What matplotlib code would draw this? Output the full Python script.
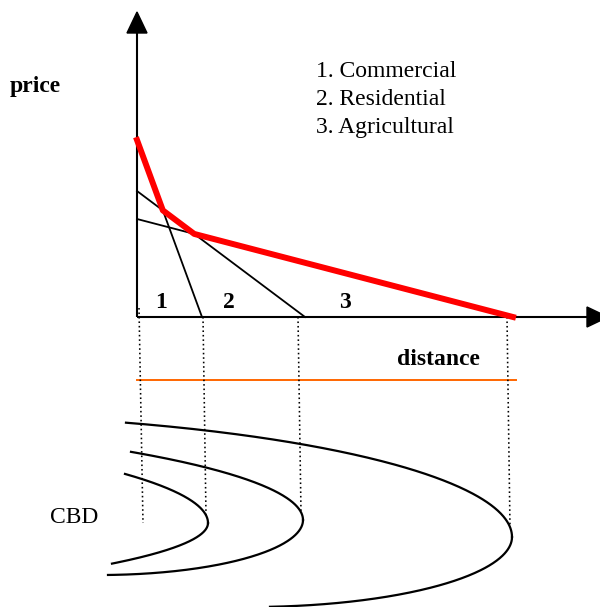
import numpy as np
import matplotlib.pyplot as plt
from matplotlib.patches import Polygon, Rectangle

plt.rcParams['font.family'] = ['Liberation Serif', 'DejaVu Serif']

# bid-rent lines: price at the CBD and the distance where it falls to zero
uses = ['1. Commercial', '2. Residential', '3. Agricultural']
zone_labels = ['1', '2', '3']
intercepts = [177, 126, 98]
extents = [65, 168, 376]

# land-use rings on the map below (edge distance, level, arcs as (a, b, reach))
ring_edge = [71, 166, 375]
ring_level = [-206, -203, -220]
ring_top = [(1000, 123, 83), (800, 110, 172), (612, 123, 386)]
ring_bottom = [(1000, 95, 96), (203, 55, 195), (262, 70, 242)]

fig = plt.figure(figsize=(6.0, 6.07), dpi=100)
ax = fig.add_axes([0, 0, 1, 1])
ax.set_xlim(-137, 463)
ax.set_ylim(-290, 317)
ax.axis('off')

# axes with arrow heads
ax.plot([0, 0], [0, 288], color='black', lw=1.5, solid_capstyle='butt')
ax.plot([0, 452], [0, 0], color='black', lw=1.5, solid_capstyle='butt')
ax.add_patch(Polygon([(-10, 284), (10, 284), (0, 305)], closed=True, color='black'))
ax.add_patch(Polygon([(450, -10), (450, 10), (471, 0)], closed=True, color='black'))

# individual bid-rent lines
for p0, d0 in zip(intercepts, extents):
    ax.plot([0, d0], [p0, 0], color='black', lw=1.3)

# upper envelope: where each line overtakes the next one
env_d = [0]
env_p = [intercepts[0]]
for i in range(len(intercepts) - 1):
    s1 = intercepts[i] / extents[i]
    s2 = intercepts[i + 1] / extents[i + 1]
    d = (intercepts[i] - intercepts[i + 1]) / (s1 - s2)
    env_d.append(d)
    env_p.append(intercepts[i] - s1 * d)
env_d.append(extents[-1])
env_p.append(0)
ax.plot(env_d, env_p, color='#ff0000', lw=4.3, solid_joinstyle='round', zorder=4)

# zone numbers and legend
for lab, x in zip(zone_labels, [24, 92, 208]):
    ax.text(x, 9, lab, ha='center', va='baseline', fontsize=17, fontweight='bold')
for k, txt in enumerate(uses):
    ax.text(179, 240 - 28 * k, txt, ha='left', va='baseline', fontsize=17)

price = ax.text(-127, 225, 'price', ha='left', va='baseline', fontsize=17,
                fontweight='bold')
price.set_clip_path(Rectangle((-137, 225), 200, 60, transform=ax.transData))
ax.text(301, -48, 'distance', ha='center', va='baseline', fontsize=17,
        fontweight='bold')

ax.plot([0, 379], [-63, -63], color='#ff6600', lw=1.4)

# rings: each one is two half-arcs meeting at the zone edge
def arc(xv, yv, a, b, reach, sign):
    t = np.linspace(0, np.arccos(1 - reach / a), 200)
    return xv - a * (1 - np.cos(t)), yv + sign * b * np.sin(t)

for xv, yv, top, bot in zip(ring_edge, ring_level, ring_top, ring_bottom):
    x, y = arc(xv, yv, *top, 1)
    ax.plot(x, y, color='black', lw=1.6)
    x, y = arc(xv, yv, *bot, -1)
    ax.plot(x, y, color='black', lw=1.6)

# dotted drop lines from the distance axis down to the rings
dots = dict(color='black', lw=1.15, ls=(0, (1, 1.8)))
ax.plot([2, 6], [9, -206], **dots)
for xv, yv, top in zip(ring_edge, ring_level, ring_top):
    x, y = arc(xv, yv, top[0], top[1], 2, 1)
    ax.plot([xv - 5, x[-1]], [0, y[-1]], **dots)

ax.text(-87, -206, 'CBD', ha='left', va='baseline', fontsize=17)

plt.savefig('out.png', dpi=100)
